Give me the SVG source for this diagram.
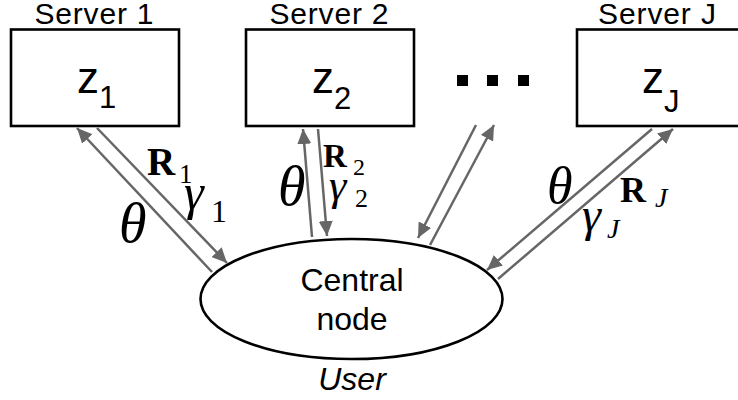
<svg xmlns="http://www.w3.org/2000/svg" width="738" height="400" viewBox="0 0 738 400">
<defs>
<style>
.box{fill:#fff;stroke:#000;stroke-width:2.6}
.lbl{font-family:"Liberation Sans",Arial,sans-serif;fill:#000}
.m{font-family:"Liberation Serif","Times New Roman",serif;fill:#000}
.it{font-style:italic}
.bd{font-weight:bold}
.c{stroke:#666;stroke-width:2.5;fill:none;marker-end:url(#ah)}
</style>
<marker id="ah" markerUnits="userSpaceOnUse" markerWidth="16" markerHeight="14" refX="15" refY="7" orient="auto">
<path d="M0,0 L15,7 L0,14 Z" fill="#666"/>
</marker>
</defs>
<rect width="738" height="400" fill="#fff"/>
<g id="server1">
<text class="lbl" x="94" y="24" font-size="30" text-anchor="middle" textLength="119">Server 1</text>
<rect class="box" x="11" y="29.5" width="168" height="96.5"/>
<text class="lbl" x="77" y="93" font-size="44">z<tspan font-size="31" y="108">1</tspan></text>
</g>
<g id="server2">
<text class="lbl" x="329" y="24" font-size="30" text-anchor="middle" textLength="119">Server 2</text>
<rect class="box" x="246" y="29.5" width="168" height="96.5"/>
<text class="lbl" x="312" y="93" font-size="44">z<tspan font-size="31" y="109">2</tspan></text>
</g>
<g id="dots">
<rect x="457" y="75" width="11" height="11"/>
<rect x="487" y="75" width="11" height="11"/>
<rect x="518" y="75" width="11" height="11"/>
</g>
<g id="serverJ">
<text class="lbl" x="657" y="24" font-size="30" text-anchor="middle" textLength="118">Server J</text>
<rect class="box" x="577" y="29.5" width="168" height="96.5"/>
<text class="lbl" x="642" y="93" font-size="44">z<tspan font-size="31" y="112">J</tspan></text>
</g>
<g id="central">
<ellipse cx="351.5" cy="299" rx="151" ry="60" fill="#fff" stroke="#000" stroke-width="2.6"/>
<text class="lbl" x="352" y="291" font-size="32" text-anchor="middle">Central</text>
<text class="lbl" x="352" y="330" font-size="32" text-anchor="middle">node</text>
<text class="lbl it" x="352" y="390" font-size="32" text-anchor="middle">User</text>
</g>
<g id="connectors">
<line class="c" x1="212" y1="272" x2="77" y2="128"/>
<line class="c" x1="97" y1="128" x2="227" y2="263"/>
<line class="c" x1="312" y1="237" x2="303" y2="129"/>
<line class="c" x1="318" y1="129" x2="327" y2="236"/>
<line class="c" x1="476" y1="125" x2="418" y2="238"/>
<line class="c" x1="430" y1="245" x2="494" y2="125"/>
<line class="c" x1="652" y1="129" x2="487" y2="270"/>
<line class="c" x1="498" y1="279" x2="673" y2="129"/>
</g>
<g id="labels">
<text class="m bd" x="147" y="175" font-size="39">R</text>
<text class="m" x="179" y="183" font-size="27">1</text>
<text class="m it" x="184" y="209" font-size="50">γ</text>
<text class="m" x="211" y="222" font-size="32">1</text>
<text class="m it" x="119" y="242" font-size="56">θ</text>
<text class="m it" x="278" y="205" font-size="56">θ</text>
<text class="m bd" x="323" y="167" font-size="33">R</text>
<text class="m" x="353" y="175" font-size="24">2</text>
<text class="m it" x="329" y="200" font-size="44">γ</text>
<text class="m" x="355" y="207" font-size="26">2</text>
<text class="m it" x="547" y="203" font-size="52">θ</text>
<text class="m bd" x="620" y="202" font-size="36">R</text>
<text class="m it" x="655" y="207" font-size="28">J</text>
<text class="m it" x="582" y="231" font-size="48">γ</text>
<text class="m it" x="607" y="238" font-size="28">J</text>
</g>
</svg>
